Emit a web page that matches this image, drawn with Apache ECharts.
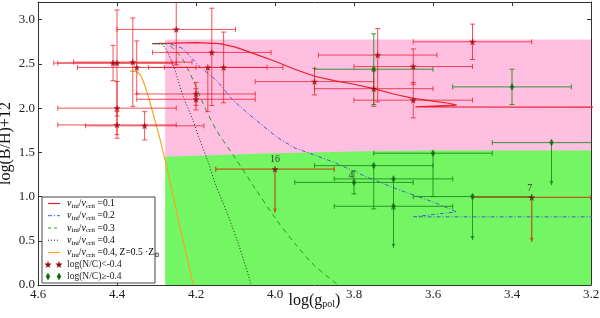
<!DOCTYPE html>
<html><head><meta charset="utf-8">
<script src="https://cdn.jsdelivr.net/npm/echarts@6/dist/echarts.min.js"></script>
<style>html,body{margin:0;padding:0;background:#fff}#c{width:600px;height:318px}</style>
</head><body><div id="c"></div>
<script>
// ---------- data ----------
const xTickLabels = ['4.6','4.4','4.2','4.0','3.8','3.6','3.4','3.2'];
const yTickLabels = ['0.0','0.5','1.0','1.5','2.0','2.5','3.0'];

// shaded regions
const pinkBox = [4.278, 3.2, 1.40, 2.777];            // xLeft, xRight, yBottom, yTop
const greenTop = [[4.278,1.45],[4.10,1.475],[4.0,1.49],[3.8,1.51],[3.6,1.52],[3.2,1.52]];

// evolutionary tracks
const track01 = [[4.31,2.73],[4.20,2.74],[4.14,2.73],[4.10,2.69],[4.05,2.61],[4.00,2.53],[3.95,2.44],[3.90,2.36],[3.85,2.31],[3.80,2.27],[3.75,2.22],[3.70,2.16],[3.65,2.11],[3.60,2.08],[3.56,2.055],[3.54,2.035],[3.645,2.015],[3.15,2.012]];
const track02 = [[4.31,2.73],[4.266,2.728],[4.232,2.672],[4.19,2.464],[4.148,2.314],[4.106,2.088],[4.063,1.919],[3.996,1.674],[3.95,1.55],[3.90,1.47],[3.852,1.39],[3.768,1.222],[3.684,1.072],[3.60,0.94],[3.54,0.827],[3.65,0.771],[3.15,0.771]];
const track03 = [[4.31,2.73],[4.274,2.725],[4.249,2.633],[4.232,2.539],[4.207,2.314],[4.182,2.051],[4.148,1.749],[4.10,1.43],[4.05,1.09],[4.00,0.76],[3.95,0.47],[3.90,0.22],[3.84,0.0]];
const track04 = [[4.31,2.73],[4.285,2.715],[4.274,2.652],[4.253,2.427],[4.232,2.125],[4.211,1.90],[4.19,1.637],[4.17,1.40],[4.15,1.13],[4.12,0.80],[4.09,0.43],[4.06,0.0]];
const track05 = [[4.367,2.419],[4.352,2.415],[4.34,2.37],[4.33,2.26],[4.32,2.12],[4.31,1.96],[4.30,1.80],[4.29,1.63],[4.27,1.25],[4.24,0.65],[4.207,0.0]];

// stars: log(N/C) < -0.4   [logg, B, xErr, yErrDown, yErrUp, isUpperLimit]
const lowNC = [
 [4.41,2.51,0.15,0.20,0.20,0],[4.40,2.51,0.15,0.60,0.60,0],[4.36,2.52,0.15,0.50,0.50,0],
 [4.35,2.46,0.15,0.30,0.30,0],[4.40,2.00,0.15,0.30,0.30,0],[4.40,1.81,0.15,0.15,0.15,0],
 [4.33,1.80,0.15,0.16,0.16,0],[4.25,2.89,0.15,0.40,0.40,0],[4.16,2.63,0.15,0.60,0.50,0],
 [4.17,2.46,0.15,0.50,0.00,0],[4.13,2.46,0.15,0.40,0.40,0],[4.20,2.16,0.15,0.13,0.13,0],
 [4.20,2.10,0.15,0.12,0.12,0],[3.90,2.30,0.15,0.15,0.15,0],[3.74,2.60,0.15,0.53,0.30,0],
 [3.75,2.22,0.15,0.20,0.20,0],[3.65,2.47,0.15,0.20,0.20,0],[3.65,2.09,0.15,0.20,0.20,0],
 [3.50,2.75,0.15,0.20,0.20,0]
];
// diamonds: log(N/C) >= -0.4
const highNC = [
 [3.75,2.44,0.15,0.40,0.40,0],[3.40,2.24,0.15,0.20,0.20,0],[3.30,1.61,0.15,0.48,0,1],
 [3.60,1.49,0.15,0.49,0,0],[3.75,1.35,0.15,0.49,0,0],[3.80,1.16,0.15,0.13,0.13,0],
 [3.70,1.20,0.15,0.34,0,0],[3.70,0.89,0.15,0.47,0,1],[3.50,1.00,0.15,0.49,0,1]
];
const highNCLabels = ['','','','','','4','','',''];
// numbered upper limits
const limits = [[4.00,1.31,0.15,0.49,0,1],[3.35,0.99,0.15,0.50,0,1]];
const limitLabels = ['16','7'];

const legendNames = ['=0.1','=0.2','=0.3','=0.4','=0.4, Z=0.5 ·Z','log(N/C)<-0.4','log(N/C)≥-0.4'];

// ---------- chart ----------
const F = "'Liberation Serif','DejaVu Serif',serif";
const chart = echarts.init(document.getElementById('c'), null, {renderer:'canvas'});

const STAR = 'path://M50,0 L61,35 L98,35 L68,57 L79,91 L50,70 L21,91 L32,57 L2,35 L39,35 Z';

function errRender(color, lw){
  return function(params, api){
    const x=api.value(0), y=api.value(1), xe=api.value(2), yd=api.value(3), yu=api.value(4), lim=api.value(5);
    const c=api.coord([x,y]), L=api.coord([x+xe,y]), R=api.coord([x-xe,y]);
    const T=api.coord([x,y+yu]), B=api.coord([x,y-yd]);
    const cap=2.5, st={stroke:color,lineWidth:lw,fill:null};
    const ch=[
      {type:'line',shape:{x1:L[0],y1:L[1],x2:R[0],y2:R[1]},style:st},
      {type:'line',shape:{x1:L[0],y1:L[1]-cap,x2:L[0],y2:L[1]+cap},style:st},
      {type:'line',shape:{x1:R[0],y1:R[1]-cap,x2:R[0],y2:R[1]+cap},style:st}
    ];
    if(yu>0){
      ch.push({type:'line',shape:{x1:c[0],y1:c[1],x2:T[0],y2:T[1]},style:st});
      ch.push({type:'line',shape:{x1:T[0]-cap,y1:T[1],x2:T[0]+cap,y2:T[1]},style:st});
    }
    if(yd>0){
      ch.push({type:'line',shape:{x1:c[0],y1:c[1],x2:B[0],y2:B[1]},style:st});
      if(lim){
        ch.push({type:'polygon',shape:{points:[[B[0]-2,B[1]-4],[B[0]+2,B[1]-4],[B[0],B[1]]]},style:{fill:color}});
      } else {
        ch.push({type:'line',shape:{x1:B[0]-cap,y1:B[1],x2:B[0]+cap,y2:B[1]},style:st});
      }
    }
    return {type:'group',children:ch};
  };
}

function regionRender(params, api){
  if(params.dataIndex>0) return;
  const lt=api.coord([pinkBox[0],pinkBox[3]]), rb=api.coord([pinkBox[1],pinkBox[2]]);
  const g=[];
  greenTop.forEach(p=>g.push(api.coord(p)));
  g.push(api.coord([greenTop[greenTop.length-1][0],0]));
  g.push(api.coord([greenTop[0][0],0]));
  return {type:'group',children:[
    {type:'rect',shape:{x:lt[0],y:lt[1],width:rb[0]-lt[0],height:rb[1]-lt[1]},style:{fill:'#ffbfe1'}},
    {type:'polygon',shape:{points:g},style:{fill:'#74f563'}}
  ]};
}

function trackSeries(data,color,type,width,smooth){
  return {type:'line',data:data,showSymbol:false,symbol:'none',smooth:smooth,clip:true,z:3,
    lineStyle:{color:color,width:width,type:type},silent:true,animation:false};
}

const axisCommon = {axisLine:{show:true,onZero:false,lineStyle:{color:'#333',width:1}},
  axisTick:{show:true,inside:true,length:4,lineStyle:{color:'#333'}},splitLine:{show:false},nameMoveOverlap:false};

const option = {
  animation:false,
  grid:{left:38,right:9,top:2,bottom:33,containLabel:false,outerBoundsMode:'none'},
  xAxis:[
    Object.assign({type:'value',inverse:true,min:3.2,max:4.6,interval:0.2,position:'bottom',
      axisLabel:{fontFamily:F,fontSize:13,color:'#222',margin:3,
        formatter:v=>{const s=v.toFixed(1);return xTickLabels.includes(s)?s:'';}},
      name:'{a|log(g}{b|pol}{a|)}',nameLocation:'middle',nameGap:8,
      nameTextStyle:{verticalAlign:'top',rich:{a:{fontFamily:F,fontSize:16,color:'#111'},b:{fontFamily:F,fontSize:10,color:'#111',padding:[6,0,0,0]}}}
    },axisCommon),
    Object.assign({type:'value',inverse:true,min:3.2,max:4.6,interval:0.2,position:'top',axisLabel:{show:false}},axisCommon)
  ],
  yAxis:[
    Object.assign({type:'value',min:0,max:3.2,interval:0.5,position:'left',
      axisLabel:{fontFamily:F,fontSize:13,color:'#222',margin:3,
        formatter:v=>{const s=v.toFixed(1);return (yTickLabels.includes(s)&&Math.abs(v*2-Math.round(v*2))<1e-6)?s:'';}},
      name:'log(B/H)+12',nameLocation:'middle',nameGap:24,nameRotate:90,
      nameTextStyle:{fontFamily:F,fontSize:16,color:'#111'}
    },axisCommon),
    Object.assign({type:'value',min:0,max:3.2,interval:0.5,position:'right',axisLabel:{show:false}},axisCommon)
  ],
  series:[
    {type:'custom',renderItem:regionRender,data:[[pinkBox[0],pinkBox[2]]],clip:true,z:1,silent:true},
    trackSeries(track01,'#e8202a','solid',1.2,false),
    trackSeries(track02,'#4060d0',[4,2,1,2],1,false),
    trackSeries(track03,'#2f8f2f',[5,4],1,0.3),
    trackSeries(track04,'#222222',[1,2],1,0.3),
    trackSeries(track05,'#f5a623','solid',1.2,0.2),
    {type:'custom',renderItem:errRender('rgba(235,25,35,0.75)',1),data:lowNC,clip:true,z:4,silent:true},
    {type:'custom',renderItem:errRender('rgba(25,135,25,0.85)',1),data:highNC,clip:true,z:4,silent:true},
    {type:'custom',renderItem:errRender('#b3601c',1.3),data:limits,clip:true,z:4,silent:true},
    {type:'scatter',data:lowNC.map(p=>[p[0],p[1]]),symbol:STAR,symbolSize:6,z:5,silent:true,
      itemStyle:{color:'#7a0a14',borderColor:'#d01020',borderWidth:0.6}},
    {type:'scatter',data:highNC.map((p,i)=>({value:[p[0],p[1]],label:{show:highNCLabels[i]!=='',formatter:highNCLabels[i],position:'top',distance:0,offset:[-3,2],fontFamily:F,fontSize:10,color:'#111'}})),
      symbol:'diamond',symbolSize:[4,7],z:5,silent:true,itemStyle:{color:'#0a5a0a',borderColor:'#1a9a1a',borderWidth:0.6}},
    {type:'scatter',data:limits.map((p,i)=>({value:[p[0],p[1]],label:{show:true,formatter:limitLabels[i],position:'top',distance:1,offset:[i===1?-2:0,0],fontFamily:F,fontSize:10,color:'#111'}})),
      symbol:STAR,symbolSize:6,z:5,silent:true,itemStyle:{color:'#4a1a08',borderColor:'#7a3a10',borderWidth:0.6}}
  ]
};

// legend drawn as graphic
function starPts(cx,cy,r){
  const pts=[];
  for(let k=0;k<10;k++){
    const a=-Math.PI/2+k*Math.PI/5, rr=(k%2===0)?r:r*0.42;
    pts.push([cx+rr*Math.cos(a),cy+rr*Math.sin(a)]);
  }
  return pts;
}
const lgX=42, lgY=197, rows=[203.5,215.7,228,240.2,252.5,264.8,276.5];
const lineStyles=[
  {stroke:'#e8202a',lineWidth:1.2},{stroke:'#4060d0',lineWidth:1,lineDash:[4,2,1,2]},
  {stroke:'#2f8f2f',lineWidth:1,lineDash:[3,3]},{stroke:'#222',lineWidth:1,lineDash:[1,2]},
  {stroke:'#f5a623',lineWidth:1.2}];
const richL={i:{fontFamily:F,fontSize:10,fontStyle:'italic',color:'#222'},
  s:{fontFamily:F,fontSize:7,color:'#222',padding:[5,0,0,0]},
  n:{fontFamily:F,fontSize:9.5,color:'#222'}};
const gEls=[{type:'rect',shape:{x:lgX,y:lgY,width:113,height:86},style:{fill:'#fff',stroke:'#444',lineWidth:1},z:10}];
for(let k=0;k<5;k++){
  gEls.push({type:'line',shape:{x1:48,y1:rows[k],x2:60,y2:rows[k]},style:lineStyles[k],z:11});
  let txt='{i|v}{s|ini}{n|/}{i|v}{s|crit}{n| '+legendNames[k]+'}';
  if(k===4) txt+='{s|⊙}';
  gEls.push({type:'text',x:67,y:rows[k],style:{text:txt,rich:richL,verticalAlign:'middle',align:'left'},z:11});
}
[48,59].forEach(cx=>{
  gEls.push({type:'polygon',shape:{points:starPts(cx,rows[5],3.2)},style:{fill:'#7a0a14',stroke:'#d01020',lineWidth:0.5},z:11});
  gEls.push({type:'polygon',shape:{points:[[cx,rows[6]-3.5],[cx+2,rows[6]],[cx,rows[6]+3.5],[cx-2,rows[6]]]},style:{fill:'#0a5a0a',stroke:'#1a9a1a',lineWidth:0.5},z:11});
});
gEls.push({type:'text',x:67,y:rows[5],style:{text:legendNames[5],font:'9.5px '+F,fill:'#222',verticalAlign:'middle'},z:11});
gEls.push({type:'text',x:67,y:rows[6],style:{text:legendNames[6],font:'9.5px '+F,fill:'#222',verticalAlign:'middle'},z:11});
option.graphic={elements:gEls};

chart.setOption(option);
</script></body></html>
